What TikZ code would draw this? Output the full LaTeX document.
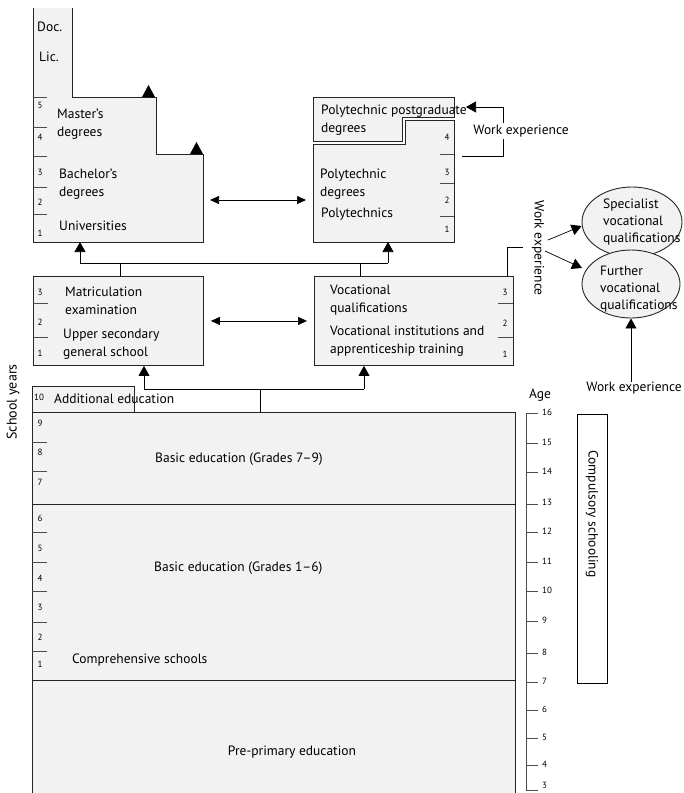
\documentclass[tikz,border=0pt]{standalone}
\usepackage{fontspec}
\setmainfont{PT Sans}
\usetikzlibrary{arrows.meta,shapes.geometric,calc}
\begin{document}
\begin{tikzpicture}[x=1pt,y=-1pt,
  shade/.style={fill=gray!10},
  edge/.style={line width=0.9pt,draw=black!85},
  box/.style={edge,shade,inner sep=0pt,anchor=north west},
  lbl/.style={font=\fontsize{13.5}{18}\selectfont,inner sep=0pt,anchor=west,align=left},
  clbl/.style={font=\fontsize{13.5}{18}\selectfont,inner sep=0pt},
  num/.style={font=\fontsize{9}{10}\selectfont,inner sep=0pt},
  tick/.style={line width=0.5pt,draw=black!70},
  conn/.style={line width=0.7pt},
  tip/.style={-{Triangle[length=10pt,width=11pt]}},
  dtip/.style={{Triangle[length=9pt,width=8pt]}-{Triangle[length=9pt,width=8pt]}},
  oval/.style={ellipse,edge,shade,inner sep=0pt}
]
\useasboundingbox (0,0) rectangle (684,793);

% ---------- Universities ----------
\fill[shade] (33,8) -- (33,242) -- (203,242) -- (203,154) -- (156,154) -- (156,97) -- (72,97) -- (72,8) -- cycle;
\draw[edge] (33,8) -- (33,242) -- (203,242) -- (203,154) -- (156,154) -- (156,97) -- (72,97) -- (72,8);
\coordinate (univB) at (80,242);
\coordinate (univR) at (203,200);
\foreach \y in {97,127,156,187,214} \draw[tick] (33,\y) -- (47,\y);
\foreach \n/\y in {5/105,4/137,3/172,2/202,1/233} \node[num] (un\n) at (40,\y) {\n};
\node[lbl] (doc) at (37,27) {Doc.};
\node[lbl] (lic) at (39,57) {Lic.};
\node[lbl] (mast) at (57,124) {Master's\\degrees};
\node[lbl] (bach) at (59,184) {Bachelor's\\degrees};
\node[lbl] (univ) at (59,226) {Universities};
\fill (142,97) -- (155,97) -- (148.5,85) -- cycle;
\fill (190,154) -- (203,154) -- (196.5,142) -- cycle;

% ---------- Polytechnics ----------
\draw[edge,shade] (313,97) -- (454,97) -- (454,117) -- (402,117) -- (402,141) -- (313,141) -- cycle;
\draw[edge,shade] (313,144) -- (405,144) -- (405,120) -- (454,120) -- (454,242) -- (313,242) -- cycle;
\coordinate (polyB) at (388,242);
\coordinate (polyL) at (313,200);
\coordinate (pgR) at (466,107);
\foreach \y in {154,183,216} \draw[tick] (440,\y) -- (454,\y);
\foreach \n/\y in {4/137,3/172,2/200,1/229} \node[num] (pn\n) at (447,\y) {\n};
\node[lbl] (pgd) at (321,120) {Polytechnic postgraduate\\degrees};
\node[lbl] (pd) at (320,184) {Polytechnic\\degrees};
\node[lbl] (poly) at (321,214) {Polytechnics};

\draw[conn,dtip] ($(univR)+(7,0)$) -- ($(polyL)+(-7,0)$);

% work experience bracket (postgraduate)
\coordinate (wb1) at (462,156);
\draw[conn,tip] (wb1) -- (503,156) -- (503,107) -- (pgR);
\node[clbl,fill=white,inner sep=1.5pt] (we1) at (521,131) {Work experience};

% ---------- Upper secondary ----------
\node[box,minimum width=170pt,minimum height=89pt] (upsec) at (33,276) {};
\foreach \y in {303,337} \draw[tick] (33,\y) -- (48,\y);
\foreach \n/\y in {3/292,2/322,1/353} \node[num] (sn\n) at (40,\y) {\n};
\node[lbl] (matr) at (65,301) {Matriculation\\examination};
\node[lbl] (ups) at (63,344) {Upper secondary\\general school};

% ---------- Vocational ----------
\node[box,minimum width=199pt,minimum height=89pt] (voc) at (314,276) {};
\foreach \y in {303,337} \draw[tick] (498,\y) -- (513,\y);
\foreach \n/\y in {3/292,2/323,1/354} \node[num] (vn\n) at (505,\y) {\n};
\node[lbl] (vq) at (330,300) {Vocational\\qualifications};
\node[lbl] (vi) at (330,341) {Vocational institutions and\\apprenticeship training};

\draw[conn,dtip] ($(upsec.east)+(7,0)$) -- ($(voc.west)+(-7,0)$);

% connectors up to higher education
\coordinate (j1) at (80,263);
\coordinate (j2) at (388,263);
\draw[conn] (j1) -- (j2);
\draw[conn] (upsec.north -| 120,0) -- (120,263);
\draw[conn] (voc.north -| 360,0) -- (360,263);
\draw[conn,tip] (j1) -- (univB);
\draw[conn,tip] (j2) -- (polyB);

% work experience from vocational
\coordinate (wv) at (523,247);
\draw[conn] (voc.north -| 507,0) -- (507,247) -- (wv);
\node[clbl,rotate=-90] (we2) at (538,248) {Work experience};

% ---------- Ellipses ----------
\node[oval,minimum width=100pt,minimum height=70pt] (spec) at (632,222) {};
\node[oval,minimum width=98pt,minimum height=68pt] (furt) at (631,284) {};
\node[lbl,font=\fontsize{13.5}{17}\selectfont] (spect) at (603,222) {Specialist\\vocational\\qualifications};
\node[lbl,font=\fontsize{13.5}{17}\selectfont] (furtt) at (600,289) {Further\\vocational\\qualifications};
\draw[conn,tip] (548,240) -- (spec.west |- 0,226);
\draw[conn,tip] (545,251) -- (582,268);
\node[clbl] (we3) at (634,388) {Work experience};
\draw[conn,tip] (we3.north -| furt.south) -- (furt.south);

% ---------- Additional education ----------
\node[box,minimum width=102pt,minimum height=26pt] (add) at (32,386) {};
\node[num] (a10) at (39,397) {10};
\node[lbl] (addt) at (54,399) {Additional education};

% ---------- Basic education ----------
\fill[shade] (32,412) rectangle (515,793);
\draw[edge] (32,793) -- (32,412) -- (515,412) -- (515,793);
\draw[edge] (32,504) -- (515,504);
\draw[edge] (32,680) -- (515,680);
\coordinate (basicT) at (260,412);
\foreach \y in {442,471,532,562,591,622,651} \draw[tick] (32,\y) -- (47,\y);
\foreach \n/\y in {9/423,8/452,7/482,6/518,5/548,4/578,3/607,2/637,1/664} \node[num] (bn\n) at (40,\y) {\n};
\node[lbl] (b79) at (155,459) {Basic education (Grades 7–9)};
\node[lbl] (b16) at (154,568) {Basic education (Grades 1–6)};
\node[lbl] (comp) at (72,660) {Comprehensive schools};
\node[clbl] (pre) at (292,752) {Pre-primary education};

% connector from basic education
\coordinate (k1) at (144,389);
\coordinate (k2) at (364,389);
\draw[conn] (basicT) -- (260,389);
\draw[conn] (k1) -- (k2);
\draw[conn,tip] (k1) -- (upsec.south -| k1);
\draw[conn,tip] (k2) -- (voc.south -| k2);

% ---------- School years ----------
\node[font=\fontsize{14}{16}\selectfont,rotate=90] (sy) at (13,402) {School years};

% ---------- Age scale ----------
\node[clbl] (age) at (540,395) {Age};
\draw[tick,line width=0.6pt] (538,413) -- (526,413) -- (526,790) -- (538,790);
\foreach \a/\y in {15/443,14/472,13/504,12/532,11/562,10/591,9/621,8/653,7/682,6/710,5/738,4/765}
  \draw[tick] (526,\y) -- (538,\y);
\foreach \a/\y in {16/412,15/442,14/471,13/502,12/531,11/561,10/590,9/620,8/652,7/681,6/709,5/737,4/764,3/785}
  \node[num,anchor=west] (ag\a) at (542,\y) {\a};

% ---------- Compulsory schooling ----------
\node[draw,line width=0.7pt,minimum width=30pt,minimum height=269pt,inner sep=0pt,anchor=north west] (cs) at (577,414) {};
\node[clbl,rotate=-90] (cst) at (592,514) {Compulsory schooling};
\end{tikzpicture}
\end{document}
